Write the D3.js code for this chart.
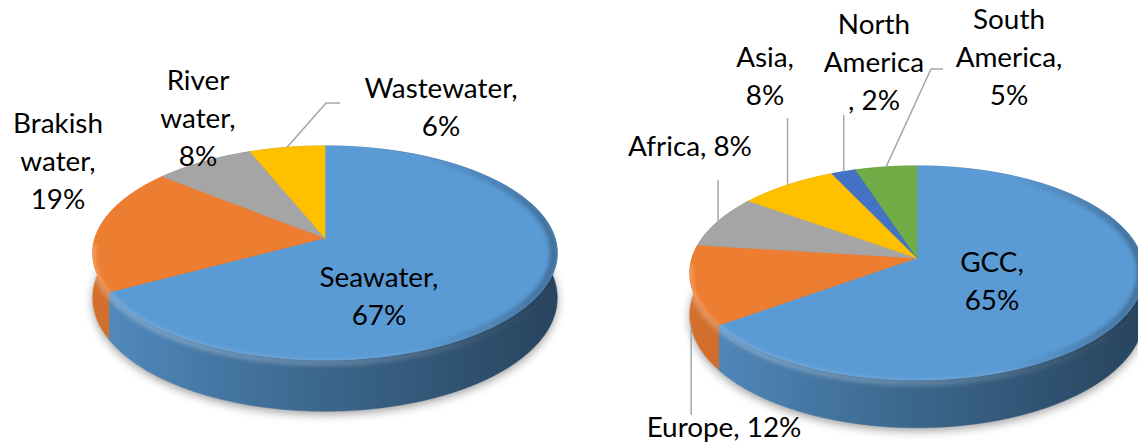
<!DOCTYPE html>
<html>
<head>
<meta charset="utf-8">
<script src="https://cdn.jsdelivr.net/npm/d3@7"></script>
<style>
  body { margin: 0; background: #fff; }
  text { font-family: Lato, "Noto Sans", sans-serif; fill: #000; }
</style>
</head>
<body>
<svg id="chart" width="1138" height="446"></svg>
<script>
// left pie: feed water sources
const sourceNames = ["Seawater", "Brakish water", "River water", "Wastewater"];
const sourceShares = [67, 19, 8, 6];
const sourceColors = ["#5B9BD5", "#ED7D31", "#A5A5A5", "#FFC000"];
const sourceLabels = [["Seawater,", "67%"], ["Brakish", "water,", "19%"], ["River", "water,", "8%"], ["Wastewater,", "6%"]];

// right pie: regions
const regionNames = ["GCC", "Europe", "Africa", "Asia", "North America", "South America"];
const regionShares = [65, 12, 8, 8, 2, 5];
const regionColors = ["#5B9BD5", "#ED7D31", "#A5A5A5", "#FFC000", "#4472C4", "#70AD47"];
const regionLabels = [["GCC,", "65%"], ["Europe, 12%"], ["Africa, 8%"], ["Asia,", "8%"], ["North", "America", ", 2%"], ["South", "America,", "5%"]];

// label placement (centre x, first baseline) and leader ends
const sourceLabelPos = [[379, 287], [58, 133], [198, 90], [441, 98]];
const sourceLeaders = [null, null, null, [[326, 103], [340, 103]]];
const regionLabelPos = [[992, 272], [724, 437], [690, 156], [765, 67], [874, 34], [1009, 29]];
const regionLeaders = [null, [[null, 415]], [[null, 180]], [[null, 118]], [[null, 115]], [[931, 69], [943, 69]]];

const leftGeom = {id: "l", cx: 325, cy: 238, a: 230, b: 105, p: 0.14, h: 44};
const rightGeom = {id: "r", cx: 917, cy: 258, a: 225, b: 105, p: 0.14, h: 41};

const lineHeight = 38;
const svg = d3.select("#chart");
const defs = svg.append("defs");
function blur(id, s) {
  defs.append("filter").attr("id", id)
    .attr("x", "-20%").attr("y", "-20%").attr("width", "140%").attr("height", "140%")
    .append("feGaussianBlur").attr("stdDeviation", s);
}
blur("soft", 5);
blur("bev", 2);

// pick a font size so the text widths come close to the original
const probe = svg.append("text").attr("font-size", 30).text("Wastewater,");
const fontSize = 30 * 153 / probe.node().getComputedTextLength();
probe.remove();

const pie = d3.pie().sort(null).value(d => d);
const line = d3.line();
const rad = Math.PI / 180;

// tilted disc with a bit of perspective: back is smaller than front
function project(g, t) {
  const u = Math.sin(t), v = Math.cos(t), k = 1 + g.p * v;
  return [g.cx + g.a * u / k, g.cy - g.b * v / k, k];
}

function arcPoints(g, t0, t1, drop, shrink) {
  const n = Math.max(2, Math.ceil((t1 - t0) / rad));
  const s = shrink || 1;
  return d3.range(n + 1).map(i => {
    const t = t0 + (t1 - t0) * i / n;
    const [x, y, k] = project(g, t);
    return [g.cx + (x - g.cx) * s, g.cy + (y - g.cy) * s + (drop ? g.h / k : 0)];
  });
}

function hGrad(id, g, stops) {
  const gr = defs.append("linearGradient").attr("id", id)
    .attr("gradientUnits", "userSpaceOnUse")
    .attr("x1", g.cx - g.a).attr("x2", g.cx + g.a).attr("y1", 0).attr("y2", 0);
  stops.forEach(s => gr.append("stop").attr("offset", s[0]).attr("stop-color", s[1]).attr("stop-opacity", s[2] === undefined ? 1 : s[2]));
  return "url(#" + id + ")";
}

function drawPie(g, values, colors, labels, labelPos, leaders) {
  const arcs = pie(values);
  const layer = svg.append("g");

  // soft shadow below
  const under = arcPoints(g, 0, 2 * Math.PI, true).map(p => [p[0], p[1] + 3]);
  layer.append("path").attr("d", line(under) + "Z")
    .attr("fill", "rgba(0,0,0,0.38)").attr("filter", "url(#soft)");

  // silhouette clip for the bevel shading
  const clip = defs.append("clipPath").attr("id", "clip-" + g.id);
  clip.append("path").attr("d", line(arcPoints(g, 0, 2 * Math.PI, false)) + "Z");
  clip.append("path").attr("d", line(arcPoints(g, 80 * rad, 280 * rad, false)
    .concat(arcPoints(g, 80 * rad, 280 * rad, true).reverse())) + "Z");

  // side walls
  arcs.forEach((d, i) => {
    const c = d3.color(colors[i]);
    const fill = hGrad("side-" + g.id + i, g, [[0, c.darker(0.3)], [0.45, c.darker(1.1)], [1, c.darker(2.3)]]);
    const top = arcPoints(g, d.startAngle, d.endAngle, false);
    const bot = arcPoints(g, d.startAngle, d.endAngle, true).reverse();
    layer.append("path").attr("d", line(top.concat(bot)) + "Z")
      .attr("fill", fill).attr("stroke", fill).attr("stroke-width", 0.5);
  });

  // top faces
  arcs.forEach((d, i) => {
    const pts = [[g.cx, g.cy]].concat(arcPoints(g, d.startAngle, d.endAngle, false));
    layer.append("path").attr("d", line(pts) + "Z")
      .attr("fill", colors[i]).attr("stroke", colors[i]).attr("stroke-width", 0.6);
  });

  // rounded edge: light band on the front rim, dark band on the right of the top
  const bevel = layer.append("g").attr("clip-path", "url(#clip-" + g.id + ")");
  bevel.append("path")
    .attr("d", line(arcPoints(g, 95 * rad, 268 * rad, false).map(p => [p[0], p[1] + 3])))
    .attr("fill", "none").attr("stroke-width", 5).attr("filter", "url(#bev)")
    .attr("stroke", hGrad("hl-" + g.id, g, [[0, "#fff", 0.3], [0.55, "#fff", 0.22], [1, "#fff", 0]]));
  bevel.append("path")
    .attr("d", line(arcPoints(g, 15 * rad, 175 * rad, false, 0.985)))
    .attr("fill", "none").attr("stroke-width", 8).attr("filter", "url(#bev)")
    .attr("stroke", hGrad("dk-" + g.id, g, [[0, "#000", 0], [0.7, "#000", 0], [1, "#000", 0.28]]));

  // leader lines
  arcs.forEach((d, i) => {
    if (!leaders[i]) return;
    const mid = (d.startAngle + d.endAngle) / 2;
    let [x, y, k] = project(g, mid);
    const ends = leaders[i].map(e => [e[0] === null ? x : e[0], e[1]]);
    if (ends[0][1] > y) y += g.h / k;
    layer.append("path").attr("d", line([[x, y]].concat(ends)))
      .attr("fill", "none").attr("stroke", "#A6A6A6").attr("stroke-width", 1.5);
  });

  // labels
  labels.forEach((lines, i) => {
    const t = layer.append("text").attr("text-anchor", "middle").attr("font-size", fontSize);
    lines.forEach((s, j) => {
      t.append("tspan").attr("x", labelPos[i][0]).attr("y", labelPos[i][1] + j * lineHeight).text(s);
    });
  });
}

drawPie(leftGeom, sourceShares, sourceColors, sourceLabels, sourceLabelPos, sourceLeaders);
drawPie(rightGeom, regionShares, regionColors, regionLabels, regionLabelPos, regionLeaders);
</script>
</body>
</html>
